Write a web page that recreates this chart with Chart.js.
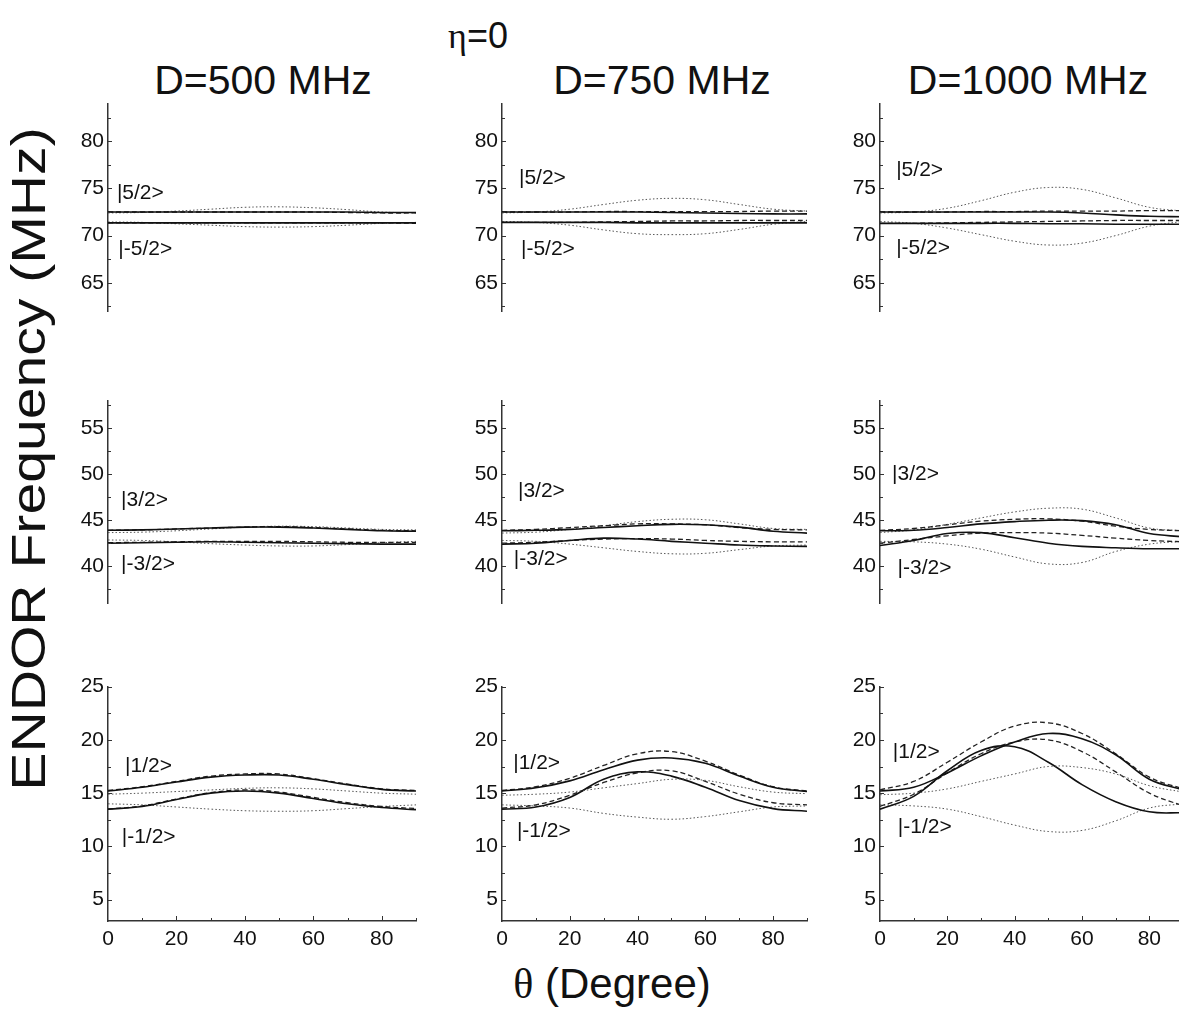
<!DOCTYPE html>
<html>
<head>
<meta charset="utf-8">
<script src="https://cdn.jsdelivr.net/npm/chart.js@4.4.1/dist/chart.umd.min.js"></script>
<style>
  html, body { margin: 0; padding: 0; background: #fff; overflow: hidden; }
  body { width: 1179px; height: 1023px; position: relative; font-family: "Liberation Sans", Arial, sans-serif; color: #111; }
  canvas { position: absolute; }
  .lbl { position: absolute; white-space: nowrap; transform: translate(-50%, -50%); line-height: 1; }
  .greek { font-family: "Liberation Serif", "DejaVu Serif", serif; }
</style>
</head>
<body>

<div class="lbl" style="left:478px; top:36px; font-size:36px;"><span class="greek">η</span>=0</div>
<div class="lbl" style="left:263px; top:80px; font-size:41px;">D=500 MHz</div>
<div class="lbl" style="left:662px; top:80px; font-size:41px;">D=750 MHz</div>
<div class="lbl" style="left:1028px; top:80px; font-size:41px;">D=1000 MHz</div>
<div class="lbl" style="left:29px; top:459px; font-size:48px; transform: translate(-50%, -50%) rotate(-90deg) scaleX(1.19);">ENDOR Frequency (MHz)</div>
<div class="lbl" style="left:612px; top:984px; font-size:42px;"><span class="greek">θ</span> (Degree)</div>

<script>
// angle samples (degrees)
var angles = [0, 10, 20, 30, 40, 50, 60, 70, 80, 90];

// D=500 MHz
var d500_m52_up_solid = [72.5, 72.5, 72.5, 72.5, 72.5, 72.5, 72.5, 72.5, 72.45, 72.45];
var d500_m52_up_dash  = [72.5, 72.5, 72.5, 72.5, 72.5, 72.5, 72.5, 72.45, 72.4, 72.4];
var d500_m52_up_dot   = [72.4, 72.45, 72.6, 72.8, 73.0, 73.05, 72.95, 72.75, 72.5, 72.4];
var d500_m52_lo_solid = [71.35, 71.35, 71.35, 71.35, 71.35, 71.35, 71.35, 71.35, 71.35, 71.35];
var d500_m52_lo_dash  = [71.35, 71.35, 71.35, 71.35, 71.35, 71.35, 71.35, 71.35, 71.35, 71.3];
var d500_m52_lo_dot   = [71.45, 71.4, 71.25, 71.1, 70.95, 70.9, 70.95, 71.1, 71.3, 71.4];

var d500_m32_up_solid = [43.9, 43.95, 44.05, 44.15, 44.25, 44.25, 44.15, 44.0, 43.85, 43.8];
var d500_m32_up_dash  = [43.9, 43.95, 44.05, 44.15, 44.25, 44.3, 44.2, 44.05, 43.9, 43.85];
var d500_m32_up_dot   = [43.65, 43.7, 43.85, 44.05, 44.25, 44.35, 44.3, 44.15, 44.0, 43.95];
var d500_m32_lo_solid = [42.5, 42.55, 42.6, 42.65, 42.6, 42.55, 42.5, 42.45, 42.4, 42.4];
var d500_m32_lo_dash  = [42.55, 42.6, 42.65, 42.7, 42.7, 42.7, 42.65, 42.6, 42.6, 42.6];
var d500_m32_lo_dot   = [42.85, 42.8, 42.65, 42.45, 42.3, 42.2, 42.2, 42.35, 42.55, 42.7];

var d500_m12_up_solid = [15.2, 15.55, 16.05, 16.5, 16.7, 16.7, 16.3, 15.8, 15.35, 15.2];
var d500_m12_up_dash  = [15.25, 15.6, 16.1, 16.6, 16.8, 16.8, 16.35, 15.85, 15.4, 15.25];
var d500_m12_up_dot   = [14.9, 15.0, 15.15, 15.3, 15.45, 15.5, 15.4, 15.2, 15.0, 14.9];
var d500_m12_lo_solid = [13.5, 13.75, 14.4, 15.0, 15.2, 15.0, 14.5, 14.0, 13.65, 13.45];
var d500_m12_lo_dash  = [13.5, 13.8, 14.45, 15.05, 15.3, 15.1, 14.6, 14.1, 13.75, 13.55];
var d500_m12_lo_dot   = [14.0, 13.9, 13.7, 13.5, 13.35, 13.3, 13.35, 13.55, 13.75, 13.9];

// D=750 MHz
var d750_m52_up_solid = [72.5, 72.5, 72.5, 72.5, 72.5, 72.45, 72.4, 72.35, 72.3, 72.3];
var d750_m52_up_dash  = [72.5, 72.5, 72.5, 72.55, 72.55, 72.55, 72.55, 72.55, 72.6, 72.6];
var d750_m52_up_dot   = [72.4, 72.5, 72.8, 73.3, 73.75, 73.95, 73.8, 73.3, 72.8, 72.6];
var d750_m52_lo_solid = [71.4, 71.4, 71.4, 71.4, 71.35, 71.35, 71.35, 71.35, 71.35, 71.35];
var d750_m52_lo_dash  = [71.4, 71.4, 71.4, 71.45, 71.5, 71.55, 71.55, 71.6, 71.6, 71.6];
var d750_m52_lo_dot   = [71.5, 71.4, 71.1, 70.6, 70.2, 70.1, 70.2, 70.65, 71.2, 71.5];

var d750_m32_up_solid = [43.85, 43.9, 44.0, 44.2, 44.4, 44.55, 44.5, 44.25, 43.8, 43.6];
var d750_m32_up_dash  = [43.9, 44.0, 44.2, 44.4, 44.6, 44.6, 44.5, 44.2, 44.0, 43.95];
var d750_m32_up_dot   = [43.6, 43.7, 44.0, 44.4, 44.85, 45.1, 45.05, 44.6, 44.1, 44.0];
var d750_m32_lo_solid = [42.4, 42.5, 42.8, 43.05, 42.95, 42.7, 42.5, 42.3, 42.2, 42.15];
var d750_m32_lo_dash  = [42.5, 42.6, 42.8, 42.95, 43.0, 42.95, 42.8, 42.7, 42.65, 42.65];
var d750_m32_lo_dot   = [42.8, 42.7, 42.4, 42.0, 41.6, 41.35, 41.4, 41.8, 42.2, 42.3];

var d750_m12_up_solid = [15.2, 15.5, 16.15, 17.2, 18.1, 18.3, 17.8, 16.6, 15.55, 15.15];
var d750_m12_up_dash  = [15.25, 15.6, 16.4, 17.6, 18.7, 18.9, 18.0, 16.7, 15.6, 15.2];
var d750_m12_up_dot   = [14.8, 14.9, 15.1, 15.5, 15.9, 16.3, 16.2, 15.6, 15.1, 14.95];
var d750_m12_lo_solid = [13.5, 13.7, 14.6, 16.3, 17.0, 16.6, 15.55, 14.3, 13.55, 13.3];
var d750_m12_lo_dash  = [13.6, 13.9, 14.8, 16.0, 16.9, 17.1, 16.1, 14.9, 14.1, 13.9];
var d750_m12_lo_dot   = [13.9, 13.8, 13.6, 13.1, 12.75, 12.55, 12.8, 13.25, 13.7, 13.8];

// D=1000 MHz
var d1000_m52_up_solid = [72.5, 72.5, 72.5, 72.5, 72.5, 72.5, 72.4, 72.2, 72.05, 72.0];
var d1000_m52_up_dash  = [72.5, 72.5, 72.5, 72.55, 72.55, 72.6, 72.6, 72.6, 72.65, 72.65];
var d1000_m52_up_dot   = [72.4, 72.5, 72.9, 73.7, 74.6, 75.1, 74.9, 74.0, 73.0, 72.6];
var d1000_m52_lo_solid = [71.3, 71.3, 71.3, 71.3, 71.3, 71.25, 71.25, 71.2, 71.2, 71.2];
var d1000_m52_lo_dash  = [71.3, 71.3, 71.35, 71.4, 71.45, 71.5, 71.55, 71.6, 71.6, 71.6];
var d1000_m52_lo_dot   = [71.5, 71.3, 70.8, 70.1, 69.4, 69.0, 69.2, 70.0, 71.0, 71.5];

var d1000_m32_up_solid = [43.85, 43.9, 44.2, 44.6, 44.85, 45.0, 44.95, 44.5, 43.55, 43.2];
var d1000_m32_up_dash  = [43.9, 44.1, 44.5, 44.9, 45.1, 45.15, 44.9, 44.35, 44.0, 43.85];
var d1000_m32_up_dot   = [43.65, 43.95, 44.55, 45.25, 45.9, 46.3, 46.2, 45.25, 44.15, 43.85];
var d1000_m32_lo_solid = [42.25, 42.8, 43.55, 43.65, 43.1, 42.5, 42.15, 42.0, 41.9, 41.9];
var d1000_m32_lo_dash  = [42.5, 42.9, 43.3, 43.6, 43.65, 43.6, 43.35, 43.05, 42.8, 42.65];
var d1000_m32_lo_dot   = [42.7, 42.65, 42.4, 41.85, 41.0, 40.25, 40.4, 41.6, 42.4, 42.7];

var d1000_m12_up_solid = [15.2, 15.55, 16.9, 18.5, 19.8, 20.6, 20.1, 18.6, 16.3, 15.3];
var d1000_m12_up_dash  = [15.3, 16.1, 17.9, 19.8, 21.3, 21.6, 20.6, 18.7, 16.5, 15.4];
var d1000_m12_up_dot   = [14.85, 15.0, 15.4, 16.1, 16.8, 17.5, 17.4, 16.8, 15.7, 15.1];
var d1000_m12_lo_solid = [13.5, 14.7, 17.1, 19.0, 19.35, 17.9, 15.8, 14.2, 13.25, 13.15];
var d1000_m12_lo_dash  = [13.75, 14.9, 16.9, 18.7, 19.8, 20.0, 18.9, 17.0, 15.0, 13.8];
var d1000_m12_lo_dot   = [13.9, 13.8, 13.5, 12.8, 12.0, 11.4, 11.5, 12.4, 13.6, 14.0];

// y ranges and labelled ticks per row
var rowMin = [62, 36, 3];
var rowMax = [84, 58, 25];
var rowTicks = [[65, 70, 75, 80], [40, 45, 50, 55], [5, 10, 15, 20, 25]];
var xTicks = [0, 20, 40, 60, 80];

// pixel box of every plot area
var colLeft = [108, 502, 880];
var colRight = [416, 807, 1183];
var rowTop = [99, 396, 682];
var rowBottom = [341, 633, 921];

var panels = [
  {row: 0, col: 0, lines: [d500_m52_up_solid, d500_m52_up_dash, d500_m52_up_dot, d500_m52_lo_solid, d500_m52_lo_dash, d500_m52_lo_dot],
   tags: [["|5/2>", 2.6, 74.5], ["|-5/2>", 3, 68.6]]},
  {row: 0, col: 1, lines: [d750_m52_up_solid, d750_m52_up_dash, d750_m52_up_dot, d750_m52_lo_solid, d750_m52_lo_dash, d750_m52_lo_dot],
   tags: [["|5/2>", 5, 76.1], ["|-5/2>", 5.6, 68.6]]},
  {row: 0, col: 2, lines: [d1000_m52_up_solid, d1000_m52_up_dash, d1000_m52_up_dot, d1000_m52_lo_solid, d1000_m52_lo_dash, d1000_m52_lo_dot],
   tags: [["|5/2>", 4.8, 76.9], ["|-5/2>", 4.8, 68.7]]},
  {row: 1, col: 0, lines: [d500_m32_up_solid, d500_m32_up_dash, d500_m32_up_dot, d500_m32_lo_solid, d500_m32_lo_dash, d500_m32_lo_dot],
   tags: [["|3/2>", 3.8, 47.2], ["|-3/2>", 3.8, 40.2]]},
  {row: 1, col: 1, lines: [d750_m32_up_solid, d750_m32_up_dash, d750_m32_up_dot, d750_m32_lo_solid, d750_m32_lo_dash, d750_m32_lo_dot],
   tags: [["|3/2>", 4.7, 48.2], ["|-3/2>", 3.5, 40.8]]},
  {row: 1, col: 2, lines: [d1000_m32_up_solid, d1000_m32_up_dash, d1000_m32_up_dot, d1000_m32_lo_solid, d1000_m32_lo_dash, d1000_m32_lo_dot],
   tags: [["|3/2>", 3.6, 50.0], ["|-3/2>", 5.2, 39.8]]},
  {row: 2, col: 0, lines: [d500_m12_up_solid, d500_m12_up_dash, d500_m12_up_dot, d500_m12_lo_solid, d500_m12_lo_dash, d500_m12_lo_dot],
   tags: [["|1/2>", 5, 17.5], ["|-1/2>", 4, 10.9]]},
  {row: 2, col: 1, lines: [d750_m12_up_solid, d750_m12_up_dash, d750_m12_up_dot, d750_m12_lo_solid, d750_m12_lo_dash, d750_m12_lo_dot],
   tags: [["|1/2>", 3.3, 17.8], ["|-1/2>", 4.4, 11.4]]},
  {row: 2, col: 2, lines: [d1000_m12_up_solid, d1000_m12_up_dash, d1000_m12_up_dot, d1000_m12_lo_solid, d1000_m12_lo_dash, d1000_m12_lo_dot],
   tags: [["|1/2>", 3.8, 18.8], ["|-1/2>", 5.3, 11.8]]}
];

// solid, dashed, dotted (upper then lower state)
var lineStyles = [
  {color: "#111", width: 1.6, dash: []},
  {color: "#222", width: 1.3, dash: [5, 3]},
  {color: "#555", width: 1, dash: [1.5, 2.2]}
];

var FONT = "'Liberation Sans', Arial, sans-serif";
var Y_AXIS_W = 48, PAD_T = 12, PAD_R = 6, X_AXIS_H = 30;

// small inward tick marks and the state labels
var extras = {
  id: "extras",
  afterDraw: function(chart, args, opts) {
    var ctx = chart.ctx;
    var xs = chart.scales.x, ys = chart.scales.y;
    var area = chart.chartArea;
    ctx.save();
    ctx.strokeStyle = "#333";
    ctx.lineWidth = 1;
    for (var v = Math.ceil(ys.min / 2.5) * 2.5; v <= ys.max; v += 2.5) {
      var py = Math.round(ys.getPixelForValue(v)) + 0.5;
      var len = (v % 5 === 0) ? 4 : 3;
      ctx.beginPath();
      ctx.moveTo(area.left, py);
      ctx.lineTo(area.left + len, py);
      ctx.stroke();
    }
    if (opts.bottom) {
      for (var a = 10; a <= 90; a += 10) {
        var px = Math.round(xs.getPixelForValue(a)) + 0.5;
        var l2 = (a % 20 === 0) ? 5 : 3;
        ctx.beginPath();
        ctx.moveTo(px, area.bottom);
        ctx.lineTo(px, area.bottom - l2);
        ctx.stroke();
      }
    }
    ctx.fillStyle = "#111";
    ctx.font = "21px " + FONT;
    ctx.textBaseline = "middle";
    ctx.textAlign = "left";
    opts.tags.forEach(function(t) {
      ctx.fillText(t[0], xs.getPixelForValue(t[1]), ys.getPixelForValue(t[2]));
    });
    ctx.restore();
  }
};

panels.forEach(function(p) {
  var bottom = p.row === 2;
  var cv = document.createElement("canvas");
  var w = (colRight[p.col] - colLeft[p.col]) + Y_AXIS_W + PAD_R;
  var h = (rowBottom[p.row] - rowTop[p.row]) + PAD_T + (bottom ? X_AXIS_H : PAD_T);
  cv.width = w;
  cv.height = h;
  cv.style.left = (colLeft[p.col] - Y_AXIS_W) + "px";
  cv.style.top = (rowTop[p.row] - PAD_T) + "px";
  document.body.appendChild(cv);

  var datasets = p.lines.map(function(vals, i) {
    var st = lineStyles[i % 3];
    return {
      data: angles.map(function(a, k) { return {x: a, y: vals[k]}; }),
      borderColor: st.color,
      borderWidth: st.width,
      borderDash: st.dash,
      pointRadius: 0,
      tension: 0.4,
      fill: false
    };
  });

  new Chart(cv, {
    type: "line",
    data: {datasets: datasets},
    options: {
      responsive: false,
      animation: false,
      devicePixelRatio: 1,
      layout: {padding: {left: 0, top: PAD_T, right: PAD_R, bottom: bottom ? 0 : PAD_T}},
      plugins: {
        legend: {display: false},
        tooltip: {enabled: false},
        extras: {tags: p.tags, bottom: bottom}
      },
      scales: {
        x: {
          type: "linear",
          min: 0,
          max: 90,
          display: bottom,
          afterFit: function(s) { s.height = X_AXIS_H; },
          afterBuildTicks: function(s) { s.ticks = xTicks.map(function(v) { return {value: v}; }); },
          grid: {display: false, drawTicks: false},
          border: {display: true, color: "#333", width: 1.5},
          ticks: {font: {size: 21, family: FONT}, color: "#111", padding: 6, maxRotation: 0}
        },
        y: {
          min: rowMin[p.row],
          max: rowMax[p.row],
          afterFit: function(s) { s.width = Y_AXIS_W; },
          afterBuildTicks: function(s) { s.ticks = rowTicks[p.row].map(function(v) { return {value: v}; }); },
          grid: {display: false, drawTicks: false},
          border: {display: true, color: "#333", width: 1.5},
          ticks: {font: {size: 21, family: FONT}, color: "#111", padding: 4}
        }
      }
    },
    plugins: [extras]
  });
});
</script>
</body>
</html>
